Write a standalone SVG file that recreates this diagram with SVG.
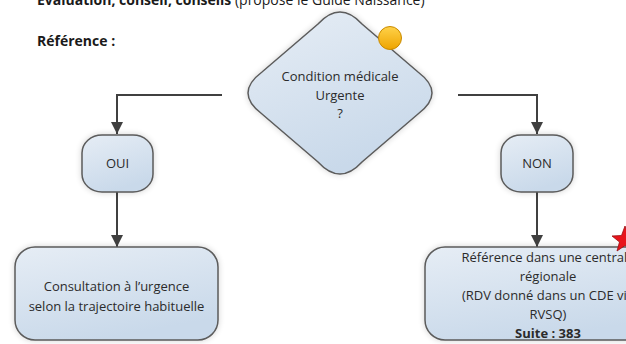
<svg xmlns="http://www.w3.org/2000/svg" width="626" height="344" viewBox="0 0 626 344">
  <defs>
    <linearGradient id="fillBlue" x1="0" y1="0" x2="0.4" y2="1">
      <stop offset="0" stop-color="#e6edf5"/>
      <stop offset="1" stop-color="#c9d9ea"/>
    </linearGradient>
    <filter id="glow" x="-20%" y="-20%" width="140%" height="140%">
      <feGaussianBlur in="SourceAlpha" stdDeviation="3"/>
      <feComponentTransfer><feFuncA type="linear" slope="0.18"/></feComponentTransfer>
      <feMerge><feMergeNode/><feMergeNode in="SourceGraphic"/></feMerge>
    </filter>
    <marker id="arrow" viewBox="0 0 12 12" refX="12" refY="6" markerWidth="12" markerHeight="13" markerUnits="userSpaceOnUse" orient="auto">
      <path d="M0,0 L12,6 L0,12 Z" fill="#404040"/>
    </marker>
    <linearGradient id="orb" x1="0" y1="0" x2="0" y2="1">
      <stop offset="0" stop-color="#ffd24a"/>
      <stop offset="1" stop-color="#eea400"/>
    </linearGradient>
  </defs>
  <style>
    .shape { fill: url(#fillBlue); stroke: #5b5b5b; stroke-width: 1.5; filter: url(#glow); }
    .lbl { font-family: "Open Sans", "Liberation Sans", sans-serif; font-size: 13px; fill: #2b2b2b; text-anchor: middle; }
    .head { font-family: "Open Sans", "Liberation Sans", sans-serif; font-size: 14px; font-weight: bold; fill: #1a1a1a; }
    .wire { fill: none; stroke: #404040; stroke-width: 2; }
  </style>
  <rect width="626" height="344" fill="#ffffff"/>

  <!-- page headings -->
  <text class="head" x="37" y="5">Évaluation, conseil, conseils <tspan font-weight="normal">(proposé le Guide Naissance)</tspan></text>
  <text class="head" x="37" y="46">Référence :</text>

  <!-- connectors -->
  <g id="connectors">
    <path class="wire" d="M222,95 H117 V134" marker-end="url(#arrow)"/>
    <path class="wire" d="M458,95 H537 V134" marker-end="url(#arrow)"/>
    <path class="wire" d="M117,192 V247" marker-end="url(#arrow)"/>
    <path class="wire" d="M537,192 V247" marker-end="url(#arrow)"/>
  </g>

  <!-- decision -->
  <g id="decision">
    <path class="shape" d="M318,24 Q340,0 362,24 L418,72 Q446,93 418,114 L362,162 Q340,186 318,162 L262,114 Q234,93 262,72 Z"/>
    <circle cx="390" cy="38" r="11.5" fill="url(#orb)" stroke="#c98a00" stroke-width="1"/>
    <text class="lbl" x="340" y="81">Condition médicale</text>
    <text class="lbl" x="340" y="100">Urgente</text>
    <text class="lbl" x="340" y="118">?</text>
  </g>

  <!-- yes branch -->
  <g id="oui">
    <rect class="shape" x="82" y="135" width="71" height="57" rx="20" ry="18"/>
    <text class="lbl" x="117.5" y="168">OUI</text>
  </g>

  <!-- no branch -->
  <g id="non">
    <rect class="shape" x="501" y="135" width="72" height="57" rx="20" ry="18"/>
    <text class="lbl" x="537" y="168">NON</text>
  </g>

  <!-- emergency consultation -->
  <g id="consultation">
    <rect class="shape" x="15" y="247" width="203" height="93" rx="20" ry="20"/>
    <text class="lbl" x="116.5" y="291">Consultation à l’urgence</text>
    <text class="lbl" x="116.5" y="311">selon la trajectoire habituelle</text>
  </g>

  <!-- regional referral -->
  <g id="reference">
    <rect class="shape" x="425" y="247" width="246" height="93" rx="20" ry="20"/>
    <text class="lbl" x="548" y="262">Référence dans une  centrale</text>
    <text class="lbl" x="548" y="281">régionale</text>
    <text class="lbl" x="548" y="300">(RDV donné dans un CDE via</text>
    <text class="lbl" x="548" y="319">RVSQ)</text>
    <text class="lbl" x="548" y="338" font-weight="bold">Suite : 383</text>
    <polygon points="625,226 628.5,235.5 638,236 630.5,242 633,251 625,245.5 617,251 619.5,242 612,236 621.5,235.5" fill="#e8141b" stroke="#9c0c10" stroke-width="0.8"/>
  </g>
</svg>
